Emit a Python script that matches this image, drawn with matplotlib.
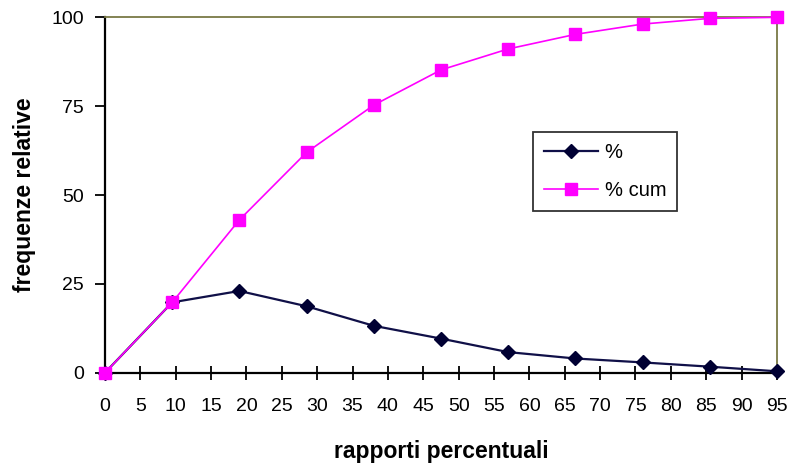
import numpy as np
import matplotlib
matplotlib.use("Agg")
import matplotlib.pyplot as plt

# classi dei rapporti percentuali (passo 9.5)
classi = [0, 9.5, 19, 28.5, 38, 47.5, 57, 66.5, 76, 85.5, 95]
perc = [0, 19.8, 23.0, 18.7, 13.2, 9.6, 5.8, 4.0, 2.9, 1.7, 0.4]
perc_cum = [0, 19.8, 43.0, 62.0, 75.3, 85.2, 91.1, 95.2, 98.1, 99.7, 100]
x_ticks = list(range(0, 100, 5))
y_ticks = [0, 25, 50, 75, 100]

plt.rcParams['font.family'] = ['Liberation Sans', 'DejaVu Sans']

fig = plt.figure(figsize=(7.9, 4.68), dpi=100)
ax = fig.add_axes([0.1329, 0.2036, 0.8506, 0.7594])

ax.plot(classi, perc, color='#101048', lw=1.6, marker='D', ms=7,
        mfc='#000033', mec='#000033', label='%', clip_on=False, zorder=3)
ax.plot(classi, perc_cum, color='#ff00ff', lw=1.2, marker='s', ms=8,
        mfc='#ff00ff', mec='#ff00ff', label='% cum', clip_on=False, zorder=4)

ax.set_xlim(0, 95)
ax.set_ylim(0, 100)
ax.set_xticks(x_ticks)
ax.set_yticks(y_ticks)
ax.tick_params(axis='x', direction='inout', length=10, width=1.3, labelsize=14, pad=13)
ax.tick_params(axis='y', direction='out', length=7, width=1.3, labelsize=14, pad=8)

for side in ['left', 'bottom']:
    ax.spines[side].set_color('black')
    ax.spines[side].set_linewidth(1.6)
for side in ['top', 'right']:
    ax.spines[side].set_color('#7a7a45')
    ax.spines[side].set_linewidth(1.3)

ax.set_xlabel('rapporti percentuali', fontsize=16.5, fontweight='bold', labelpad=18)
ax.set_ylabel('frequenze relative', fontsize=16.5, fontweight='bold', labelpad=11)

leg = ax.legend(loc='upper left', bbox_to_anchor=(0.637, 0.677),
                frameon=True, fancybox=False, handlelength=2.7, handletextpad=0.3,
                borderpad=0.55, labelspacing=0.95, borderaxespad=0,
                prop={'size': 14.5})
leg.get_frame().set_edgecolor('black')
leg.get_frame().set_linewidth(1.3)

fig.savefig('out.png', dpi=100)
